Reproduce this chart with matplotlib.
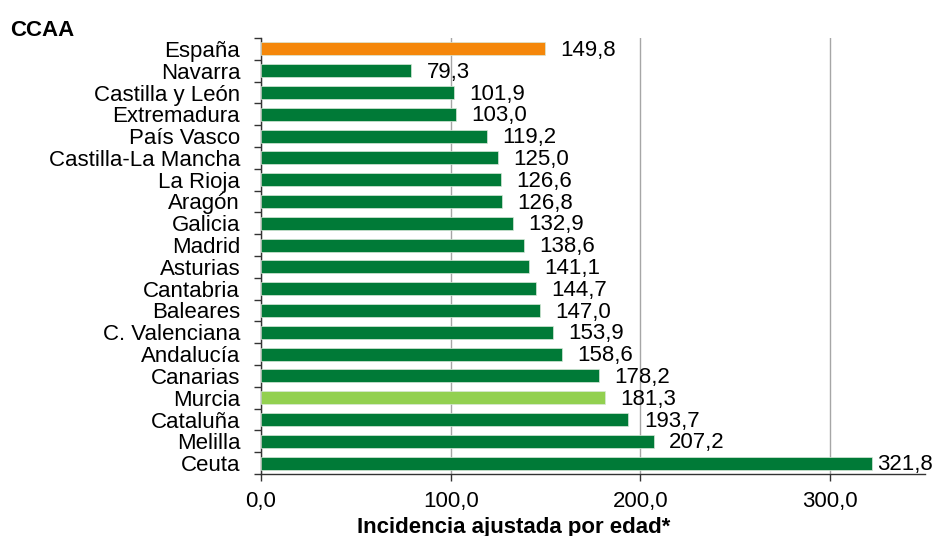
import matplotlib
matplotlib.use("Agg")
import matplotlib.pyplot as plt

categories = ["España", "Navarra", "Castilla y León", "Extremadura", "País Vasco",
              "Castilla-La Mancha", "La Rioja", "Aragón", "Galicia", "Madrid",
              "Asturias", "Cantabria", "Baleares", "C. Valenciana", "Andalucía",
              "Canarias", "Murcia", "Cataluña", "Melilla", "Ceuta"]
values = [149.8, 79.3, 101.9, 103.0, 119.2, 125.0, 126.6, 126.8, 132.9, 138.6,
          141.1, 144.7, 147.0, 153.9, 158.6, 178.2, 181.3, 193.7, 207.2, 321.8]
highlight_orange = ["España"]
highlight_light = ["Murcia"]
x_ticks = [0, 100, 200, 300]

plt.rcParams['font.family'] = ['Liberation Sans', 'DejaVu Sans']

fig = plt.figure(figsize=(9.36, 5.36), dpi=100)
ax = fig.add_axes([261/936, 1-474/536, (925-261)/936, (474-38)/536])

colors = []
for c in categories:
    if c in highlight_orange:
        colors.append("#F5870A")
    elif c in highlight_light:
        colors.append("#92D050")
    else:
        colors.append("#007A37")

y = list(range(len(categories)))
ax.barh(y, values, height=0.6, color=colors, edgecolor="#D8E8D8", linewidth=0.5, zorder=3)
ax.set_ylim(len(categories)-0.5, -0.5)
ax.set_xlim(0, 350)
ax.set_yticks(y)
ax.set_yticklabels(categories, fontsize=16)
ax.tick_params(axis='y', length=0, pad=15)
ax.set_yticks([i - 0.5 for i in range(len(categories)+1)], minor=True)
ax.tick_params(axis='y', which='minor', length=5, width=1, color="#333333", direction='out')
ax.set_xticks(x_ticks)
ax.set_xticklabels([f"{v:.1f}".replace(".", ",") for v in x_ticks], fontsize=16)
ax.tick_params(axis='x', length=5, width=1, color="#333333", pad=7)
ax.xaxis.grid(True, color="#A6A6A6", linewidth=1, zorder=0)
ax.set_axisbelow(True)
for s in ["top", "right"]:
    ax.spines[s].set_visible(False)
for s in ["left", "bottom"]:
    ax.spines[s].set_color("#333333")
    ax.spines[s].set_linewidth(1)

labels = []
for yi, v in zip(y, values):
    t = ax.annotate(f"{v:.1f}".replace(".", ","), xy=(v, yi), xytext=(11, -1.2),
                    textcoords="offset points", va="center", ha="left", fontsize=16,
                    annotation_clip=False)
    labels.append(t)

fig.text(10/936, 1-30/536, "CCAA", fontsize=16, fontweight="bold", va="center", ha="left")
fig.text(514/936, 1-527/536, "Incidencia ajustada por edad*", fontsize=16,
         fontweight="bold", va="center", ha="center")

# keep labels inside the figure like the reference
fig.canvas.draw()
renderer = fig.canvas.get_renderer()
limit = 931
for t in labels:
    bb = t.get_window_extent(renderer)
    if bb.x1 > limit:
        shift_pt = (bb.x1 - limit) * 72 / fig.dpi
        x0, y0 = t.xyann
        t.xyann = (max(x0 - shift_pt, 4), y0)

fig.savefig("out.png", dpi=100)
